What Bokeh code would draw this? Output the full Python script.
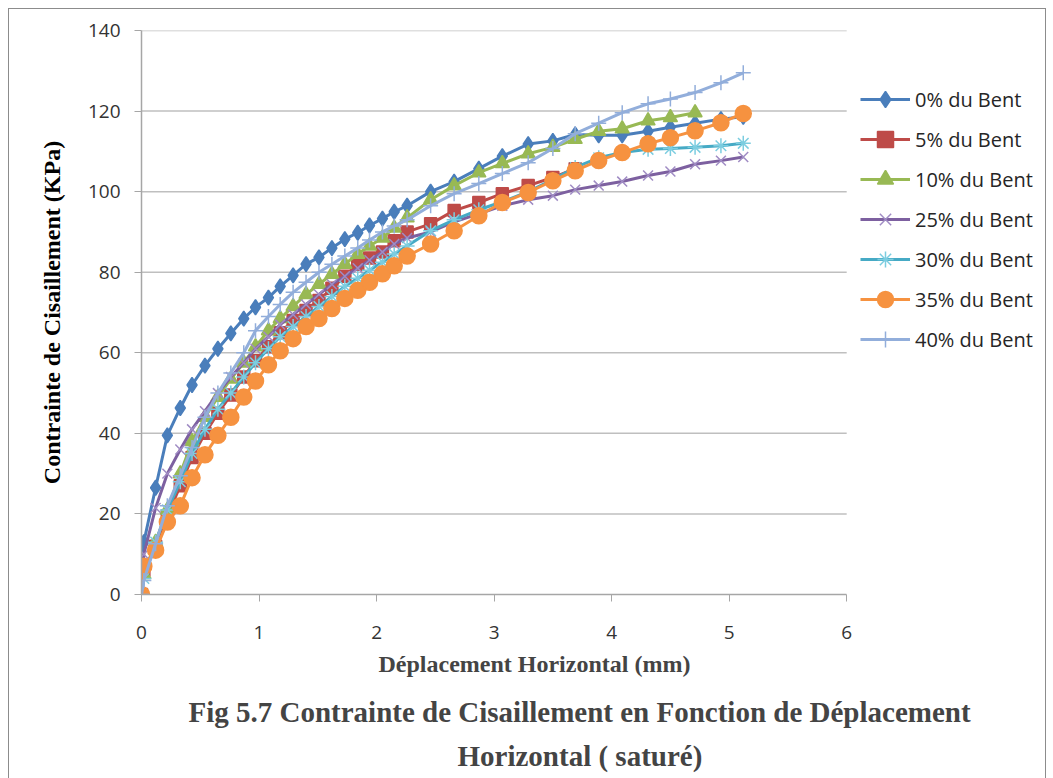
from bokeh.plotting import figure
from bokeh.models import Legend, LegendItem, Title, FixedTicker, Range1d, InlineStyleSheet
from bokeh.embed import file_html
from bokeh.resources import INLINE

# ---- data ----
deplacement = [0.00, 0.02, 0.12, 0.22, 0.33, 0.43, 0.54, 0.65, 0.76, 0.87,
               0.97, 1.08, 1.18, 1.29, 1.40, 1.51, 1.62, 1.73, 1.84, 1.94,
               2.05, 2.15, 2.26, 2.46, 2.66, 2.87, 3.07, 3.29, 3.50, 3.69,
               3.89, 4.09, 4.31, 4.50, 4.71, 4.93, 5.12]

bent_0 = [0, 13, 26.5, 39.5, 46.3, 52, 56.8, 61, 64.8, 68.5,
          71.3, 73.7, 76.5, 79.2, 82, 83.7, 86, 88.2, 89.8, 91.6,
          93.3, 95, 96.5, 100, 102.5, 105.7, 108.8, 111.8, 112.6, 114.2,
          114, 114, 115, 116, 117, 118, 118.6]

bent_5 = [0, 6, 12, 19.5, 27, 34, 40, 45, 49.5, 54,
          58, 61.5, 65, 68, 70.5, 73, 76, 79, 82, 83.5,
          85, 87.8, 90, 92, 95.3, 97.3, 99.5, 101.5, 103.5, 105.7]

bent_10 = [0, 5, 13, 21, 30, 38, 44, 49, 53.5, 57.5,
           61.5, 65.5, 68.5, 71.5, 74.5, 77, 79.5, 82, 84.5, 86.5,
           88.5, 91, 93.5, 98, 101.5, 104.7, 107, 109.4, 111, 113,
           115, 115.6, 117.6, 118.4, 119.6]

bent_25 = [0, 10, 21.5, 30, 36, 41, 45.5, 50, 54, 57.5,
           61, 64, 67, 69.5, 72, 74.5, 77, 79, 81, 83,
           85, 87, 88.5, 90, 92.5, 94.5, 96.5, 98, 99, 100.5,
           101.5, 102.5, 104, 105, 106.8, 107.7, 108.6]

bent_30 = [0, 4, 13, 21, 28, 35, 41, 46, 50, 54,
           57.5, 61, 64, 66.5, 69, 71.5, 74, 76.5, 78.5, 80.5,
           82.5, 84.5, 86.5, 90.3, 93, 95.5, 97.5, 100, 103, 106,
           108.4, 109.7, 110.5, 110.7, 111, 111.4, 112]

bent_35 = [0, 7, 11, 18, 22, 29, 34.7, 39.5, 44, 49,
           53, 57, 60.5, 63.5, 66.5, 68.5, 71, 73.5, 75.5, 77.5,
           79.6, 81.6, 84, 87, 90.3, 94, 97.3, 99.8, 102.7, 105.2,
           107.7, 109.7, 111.9, 113.4, 115.1, 117.1, 119.4]

bent_40 = [0, 3.5, 12.6, 22, 29.5, 36.5, 44, 50, 55, 60,
           65.5, 69, 72, 75, 77.5, 80, 82, 84, 86, 88,
           90, 91.5, 93, 96.5, 99.5, 102, 104.5, 107.2, 110.7, 114.4,
           117, 119.6, 121.8, 123, 124.6, 127, 129.5]

labels = ["0% du Bent", "5% du Bent", "10% du Bent", "25% du Bent",
          "30% du Bent", "35% du Bent", "40% du Bent"]
values = [bent_0, bent_5, bent_10, bent_25, bent_30, bent_35, bent_40]

y_ticks = [0, 20, 40, 60, 80, 100, 120, 140]
x_ticks = [0, 1, 2, 3, 4, 5, 6]

# ---- styles ----
line_colors = ["#4A7EBB", "#BE4B48", "#98B954", "#7D60A0", "#46AAC5", "#F69240", "#92AEDB"]
marker_colors = ["#4A7EBB", "#BE4B48", "#98B954", "#A08CC4", "#7CCDE0", "#F69240", "#92AEDB"]
markers = ["diamond", "square", "triangle", "x", "asterisk", "circle", "cross"]
sizes = [15, 12, 14, 14, 15, 16, 15]

# the frame reaches the right border so that the legend (drawn inside it) is not clipped;
# the x axis itself is bounded to 0..6 as in the reference
p = figure(width=1053, height=778, output_backend="svg", toolbar_location=None,
           x_range=Range1d(0, 7.7), y_range=Range1d(y_ticks[0], y_ticks[-1]),
           min_border_left=141, min_border_right=7, min_border_top=30,
           min_border_bottom=184)
p.stylesheets = [InlineStyleSheet(css=(
    ":host { position: relative; }\n"
    ":host::after { content: ''; position: absolute; left: 8px; top: 8px; right: 7px;"
    " bottom: -20px; border: 1.5px solid #8c8c8c; pointer-events: none; z-index: 100; }"))]

p.outline_line_color = None
p.xgrid.grid_line_color = None
p.ygrid.grid_line_color = None

# horizontal gridlines limited to the axis extent
p.segment(x0=x_ticks[0], x1=x_ticks[-1], y0=y_ticks[1:], y1=y_ticks[1:],
          line_color="#BFBFBF", line_width=1.5)

for ax, ticks in ((p.xaxis[0], x_ticks), (p.yaxis[0], y_ticks)):
    ax.ticker = FixedTicker(ticks=ticks)
    ax.minor_tick_line_color = None
    ax.major_tick_in = 0
    ax.major_tick_out = 7
    ax.major_tick_line_color = "#A6A6A6"
    ax.axis_line_color = "#A6A6A6"
    ax.axis_line_width = 1.5
    ax.major_label_text_font = "Open Sans"
    ax.major_label_text_font_size = "19px"
    ax.major_label_text_color = "#333333"
p.xaxis.bounds = (x_ticks[0], x_ticks[-1])

p.yaxis.axis_label = "Contrainte de Cisaillement (KPa)"
p.yaxis.axis_label_text_font = "Liberation Serif"
p.yaxis.axis_label_text_font_style = "bold"
p.yaxis.axis_label_text_font_size = "24px"
p.yaxis.axis_label_text_color = "#000000"
p.xaxis.major_label_standoff = 24
p.yaxis.major_label_standoff = 14
p.yaxis.axis_label_standoff = 20

items = []
for lab, vals, lc, mc, mk, sz in zip(labels, values, line_colors, marker_colors, markers, sizes):
    xs = deplacement[:len(vals)]
    r1 = p.line(xs, vals, line_color=lc, line_width=3)
    r2 = p.scatter(xs, vals, marker=mk, size=sz, fill_color=mc, line_color=mc, line_width=1.5)
    items.append(LegendItem(label=lab, renderers=[r1, r2]))

legend = Legend(items=items, location=(719, 235), orientation="vertical",
                glyph_width=50, glyph_height=40, spacing=0, padding=0, margin=0,
                label_standoff=5, label_text_font="Open Sans", label_text_font_size="20px",
                label_text_color="#262626", border_line_alpha=0, background_fill_alpha=0)
p.add_layout(legend, "center")

serif = dict(text_font="Liberation Serif", text_font_style="bold", align="left")
t0 = Title(text="Déplacement Horizontal (mm)", text_font_size="24px",
           offset=237, standoff=15, **serif)
t1 = Title(text="Fig 5.7  Contrainte de Cisaillement en Fonction de Déplacement",
           text_font_size="29px", offset=47, standoff=19, **serif)
t2 = Title(text="Horizontal ( saturé)", text_font_size="29px",
           offset=316, standoff=0, **serif)
p.add_layout(t0, "below")
p.add_layout(t1, "below")
p.add_layout(t2, "below")

open("out.html", "w").write(file_html(p, INLINE))
